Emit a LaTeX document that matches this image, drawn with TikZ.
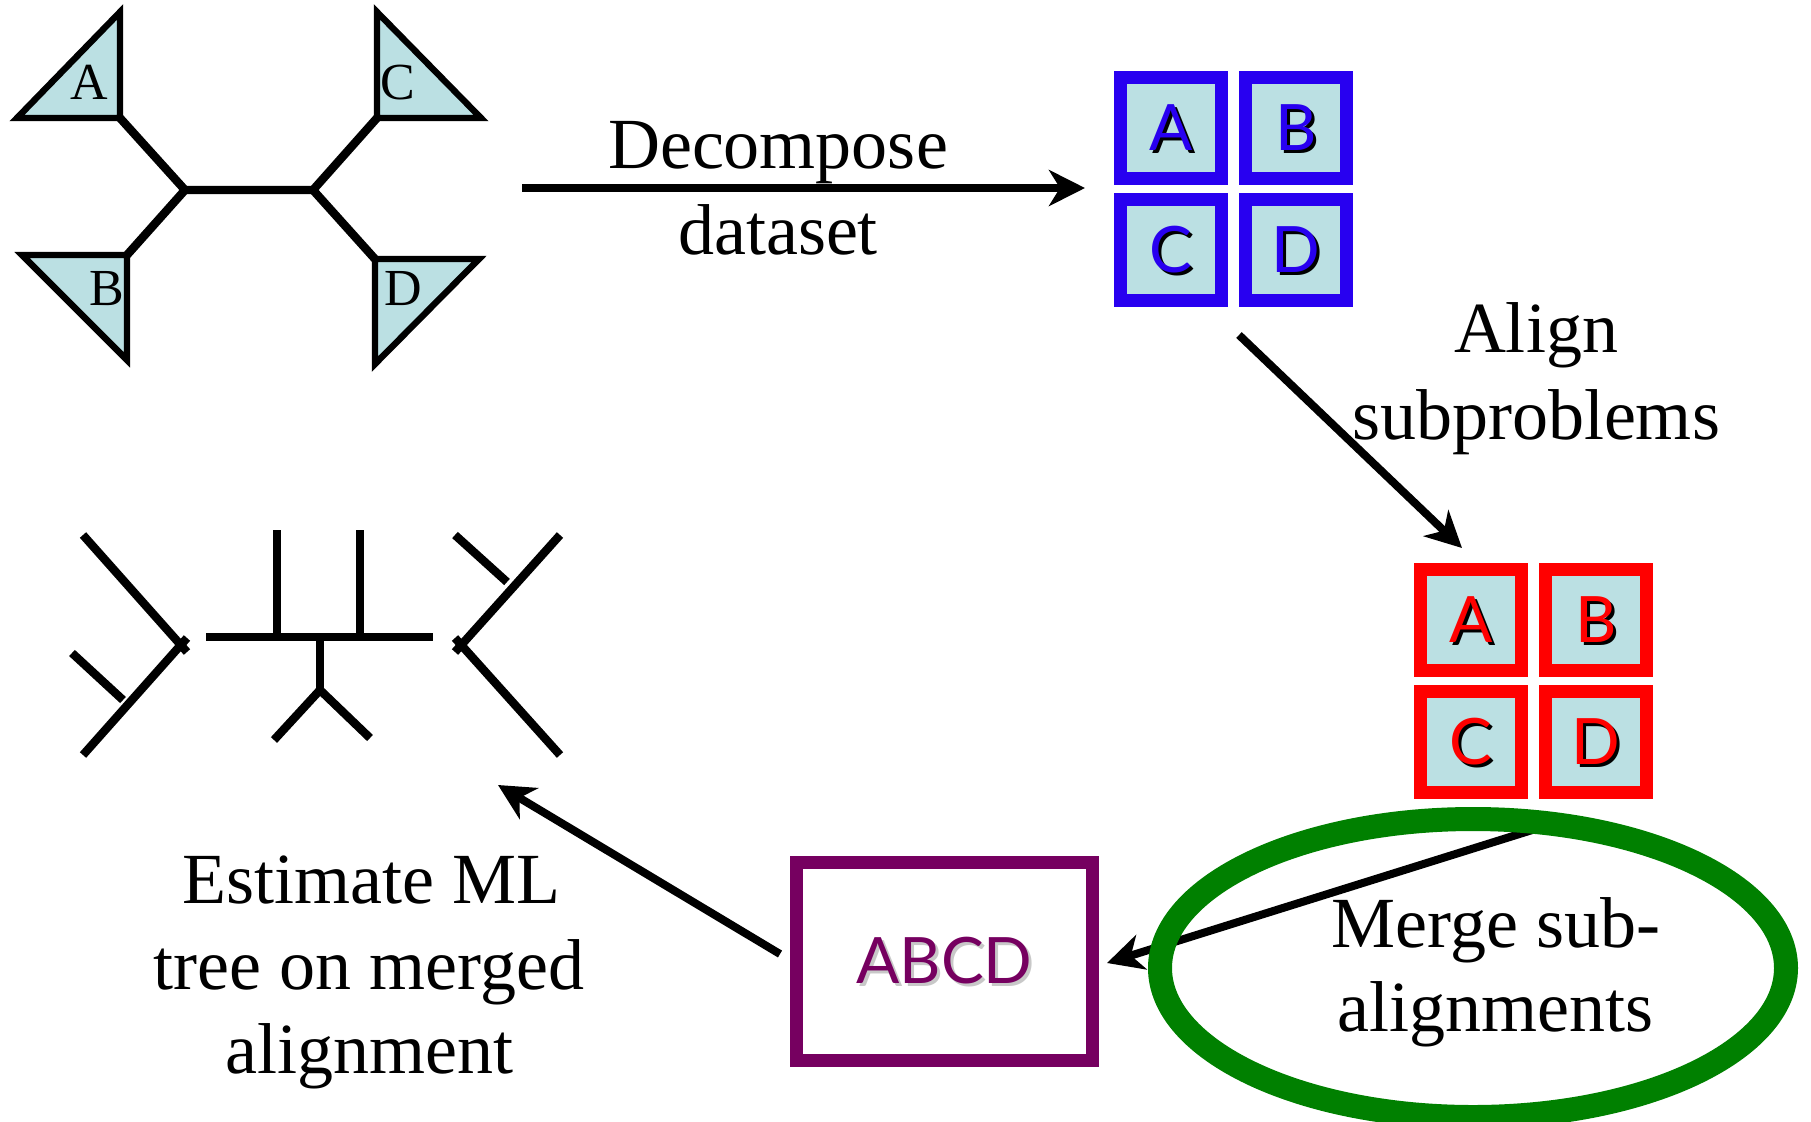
\documentclass[tikz,border=0pt]{standalone}
\usepackage{fontspec}
\setmainfont{Liberation Serif}
\newfontfamily\lato{Lato}
\usetikzlibrary{arrows.meta,shapes.geometric}
\definecolor{lightfill}{RGB}{187,224,227}
\definecolor{gridblue}{RGB}{40,0,240}
\definecolor{gridred}{RGB}{255,0,0}
\definecolor{boxpurple}{RGB}{118,0,96}
\definecolor{ringgreen}{RGB}{0,128,0}
\definecolor{shadowgray}{RGB}{200,200,200}
\newcommand\shadowed[3]{\makebox[0pt][l]{\hspace{1.5pt}\raisebox{-1.5pt}[0pt][0pt]{\color{#2}#3}}{\color{#1}#3}}
\begin{document}
\begin{tikzpicture}[x=0.5pt,y=-0.5pt,
  treeline/.style={line width=4.2pt},
  tri/.style={fill=lightfill,draw=black,line width=3.2pt},
  trilabel/.style={font=\fontsize{26}{30}\selectfont,inner sep=0,anchor=base},
  txt/.style={font=\fontsize{36}{43}\selectfont,inner sep=0,anchor=base},
  cell/.style={rectangle,minimum size=50.5pt,inner sep=0,line width=6.5pt,fill=lightfill,font=\lato\fontsize{32}{36}\selectfont},
  bluecell/.style={cell,draw=gridblue},
  redcell/.style={cell,draw=gridred},
  arr/.style={line width=4pt,-{Stealth[length=18pt,width=18pt,inset=5.5pt]}},
]
\useasboundingbox (0,0) rectangle (1811,1121);

% ---------- top-left tree ----------
\coordinate (jL) at (185,190);
\coordinate (jR) at (313,190);
\coordinate (cA) at (120,118);
\coordinate (cB) at (127,255);
\coordinate (cC) at (377,118);
\coordinate (cD) at (375,259);
\draw[treeline] (cA) -- (jL) -- (jR) -- (cC);
\draw[treeline] (cB) -- (jL);
\draw[treeline] (cD) -- (jR);
\draw[tri] (17,118) -- (120,12) -- (cA) -- cycle;
\draw[tri] (cC) -- (377,12) -- (481,118) -- cycle;
\draw[tri] (22,255) -- (cB) -- (127,360) -- cycle;
\draw[tri] (cD) -- (479,259) -- (375,364) -- cycle;
\node[trilabel] (lA) at (89,99) {A};
\node[trilabel] (lC) at (398,99) {C};
\node[trilabel] (lB) at (107,305) {B};
\node[trilabel] (lD) at (403,305) {D};

% ---------- decompose arrow ----------
\coordinate (decS) at (522,188);
\coordinate (decE) at (1085,188);
\draw[arr] (decS) -- (decE);
\node[txt] (dec1) at (778,168) {Decompose};
\node[txt] (dec2) at (778,254) {dataset};

% ---------- blue grid ----------
\node[bluecell] (bA) at (1171,128) {\shadowed{gridblue}{black}{A}};
\node[bluecell] (bB) at (1296,128) {\shadowed{gridblue}{black}{B}};
\node[bluecell] (bC) at (1171,250) {\shadowed{gridblue}{black}{C}};
\node[bluecell] (bD) at (1296,250) {\shadowed{gridblue}{black}{D}};

% ---------- align arrow ----------
\coordinate (alS) at (1239,335);
\coordinate (alE) at (1462,548);
\draw[arr] (alS) -- (alE);
\node[txt] (al1) at (1536,352) {Align};
\node[txt] (al2) at (1536,439) {subproblems};

% ---------- red grid ----------
\node[redcell] (rA) at (1471,620) {\shadowed{gridred}{black}{A}};
\node[redcell] (rB) at (1596,620) {\shadowed{gridred}{black}{B}};
\node[redcell] (rC) at (1471,742) {\shadowed{gridred}{black}{C}};
\node[redcell] (rD) at (1596,742) {\shadowed{gridred}{black}{D}};

% ---------- merged box ----------
\node[rectangle,draw=boxpurple,line width=6.5pt,minimum width=148pt,minimum height=99pt,inner sep=0,
      font=\lato\fontsize{32}{36}\selectfont] (abcd) at (944.5,961)
      {\shadowed{boxpurple}{shadowgray}{ABCD}};

% ---------- merge arrow and ring ----------
\coordinate (mgS) at (1545,826);
\coordinate (mgE) at (1107,963);
\draw[arr] (mgS) -- (mgE);
\node[ellipse,draw=ringgreen,line width=12pt,minimum width=313pt,minimum height=149pt,inner sep=0] (ring) at (1473,968) {};
\node[txt] (mg1) at (1496,947) {Merge sub-};
\node[txt] (mg2) at (1495,1031) {alignments};

% ---------- estimate arrow ----------
\coordinate (esS) at (780,954);
\coordinate (esE) at (498,785);
\draw[arr] (esS) -- (esE);
\node[txt] (es1) at (371,903) {Estimate ML};
\node[txt] (es2) at (369,989) {tree on merged};
\node[txt] (es3) at (369,1073) {alignment};

% ---------- bottom-left tree pieces ----------
% left piece
\draw[treeline] (83,535) -- (187,652);
\draw[treeline] (83,755) -- (187,638);
\draw[treeline] (72,653) -- (123,700);
% middle piece
\draw[treeline] (206,637) -- (433,637);
\draw[treeline] (277,530) -- (277,637);
\draw[treeline] (360,530) -- (360,637);
\draw[treeline] (320,637) -- (320,690);
\draw[treeline] (274,740) -- (320,690) -- (370,738);
% right piece
\draw[treeline] (560,535) -- (455,652);
\draw[treeline] (560,755) -- (455,638);
\draw[treeline] (455,535) -- (507,582);
\end{tikzpicture}
\end{document}
